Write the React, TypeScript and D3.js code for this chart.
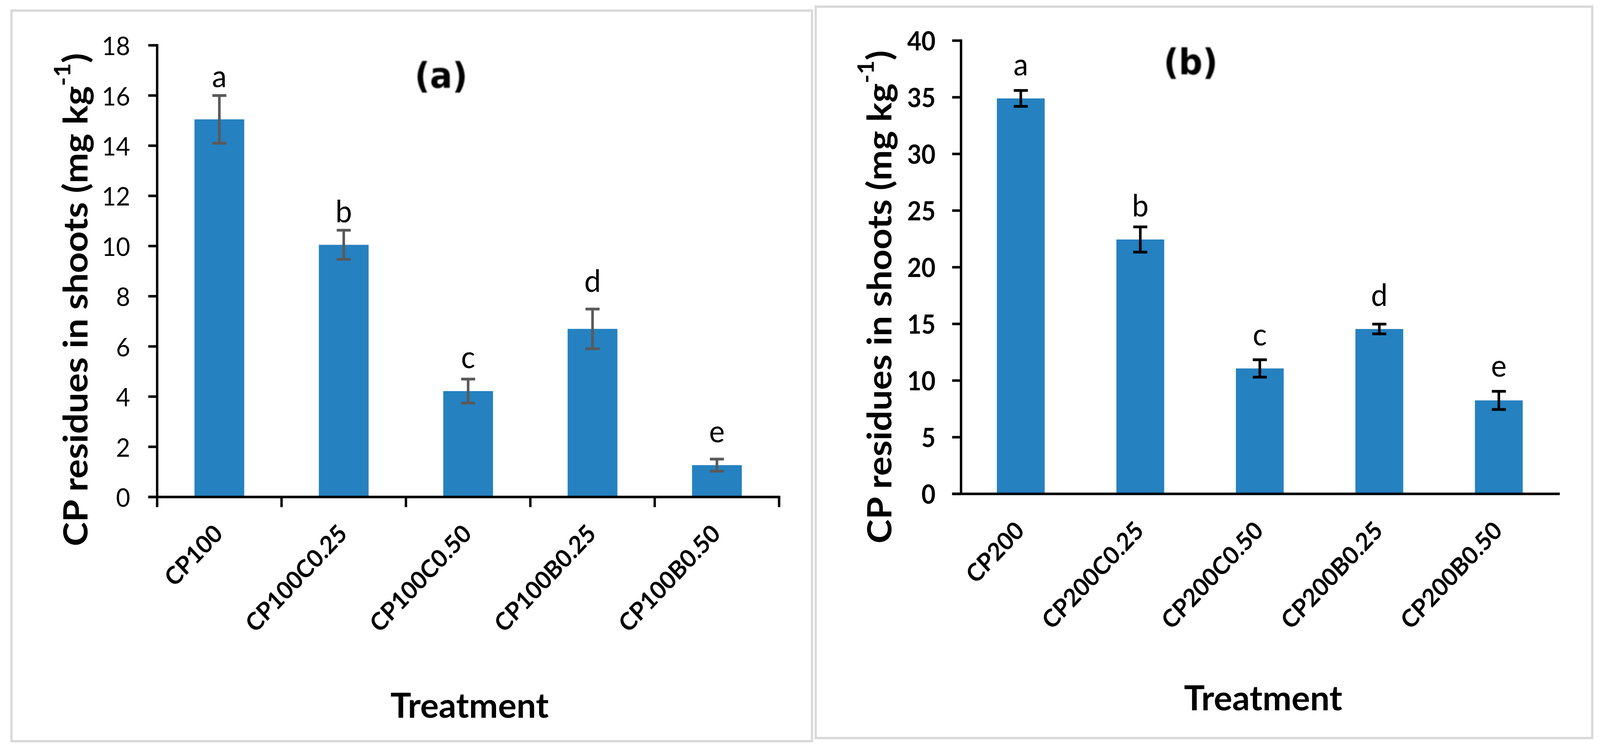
import React from "react";
import * as d3 from "d3";

// ---------- data ----------
const catsA = ["CP100", "CP100C0.25", "CP100C0.50", "CP100B0.25", "CP100B0.50"];
const meansA = [15.05, 10.05, 4.22, 6.7, 1.27];
const errsA = [0.95, 0.58, 0.48, 0.79, 0.24];
const lettersA = ["a", "b", "c", "d", "e"];
const letterAtA = [16.34, 10.95, 5.14, 8.18, 2.18];
const ticksA = [0, 2, 4, 6, 8, 10, 12, 14, 16, 18];

const catsB = ["CP200", "CP200C0.25", "CP200C0.50", "CP200B0.25", "CP200B0.50"];
const meansB = [34.9, 22.45, 11.07, 14.55, 8.25];
const errsB = [0.7, 1.11, 0.77, 0.43, 0.8];
const lettersB = ["a", "b", "c", "d", "e"];
const letterAtB = [36.93, 24.48, 13.1, 16.59, 10.36];
const ticksB = [0, 5, 10, 15, 20, 25, 30, 35, 40];

const W = 4327;
const H = 1917;
const BAR = "#2581c0";
const FONT = "Lato, Carlito, Calibri, sans-serif";

type PanelProps = {
  id: string;
  cats: string[];
  means: number[];
  errs: number[];
  letters: string[];
  letterAt: number[];
  ticks: number[];
  frame: [number, number, number, number];
  x0: number;
  x1: number;
  y0: number;
  y1: number;
  tickBold: boolean;
  errColor: string;
  catTicks: boolean;
  title: string;
  titlePos: [number, number];
  yTitlePos: [number, number];
  xTitlePos: [number, number];
  tickGap: number;
};

function Panel(p: PanelProps) {
  const x = d3
    .scaleBand<string>()
    .domain(p.cats)
    .range([p.x0, p.x1])
    .paddingInner(0.6)
    .paddingOuter(0.3);
  const ymax = p.ticks[p.ticks.length - 1];
  const y = d3.scaleLinear().domain([0, ymax]).range([p.y0, p.y1]);
  const step = x.step();
  const bw = x.bandwidth();
  const tickLen = 24;
  const lw = 6.5;
  const capHalf = 19;
  return (
    <g>
      <rect
        x={p.frame[0]}
        y={p.frame[1]}
        width={p.frame[2]}
        height={p.frame[3]}
        fill="#fff"
        stroke="#d9d9d9"
        strokeWidth={6}
      />
      {/* bars */}
      {p.cats.map((c, i) => (
        <rect
          key={c}
          x={x(c)}
          y={y(p.means[i])}
          width={bw}
          height={y(0) - y(p.means[i])}
          fill={BAR}
        />
      ))}
      {/* error bars */}
      {p.cats.map((c, i) => {
        const cx = (x(c) as number) + bw / 2;
        const hi = y(p.means[i] + p.errs[i]);
        const lo = y(p.means[i] - p.errs[i]);
        return (
          <g key={c + "e"} stroke={p.errColor} strokeWidth={7}>
            <line x1={cx} x2={cx} y1={hi} y2={lo} />
            <line x1={cx - capHalf} x2={cx + capHalf} y1={hi} y2={hi} />
            <line x1={cx - capHalf} x2={cx + capHalf} y1={lo} y2={lo} />
          </g>
        );
      })}
      {/* significance letters */}
      {p.cats.map((c, i) => (
        <text
          key={c + "l"}
          x={(x(c) as number) + bw / 2}
          y={y(p.letterAt[i])}
          textAnchor="middle"
          fontFamily={FONT}
          fontSize={80}
          fill="#000"
        >
          {p.letters[i]}
        </text>
      ))}
      {/* y axis */}
      <line x1={p.x0} x2={p.x0} y1={y(ymax) - lw / 2} y2={p.y0} stroke="#000" strokeWidth={lw} />
      {p.ticks.map((t) => (
        <g key={"t" + t}>
          <line x1={p.x0 - tickLen} x2={p.x0} y1={y(t)} y2={y(t)} stroke="#000" strokeWidth={lw} />
          <text
            x={p.x0 - p.tickGap}
            y={y(t)}
            textAnchor="end"
            dominantBaseline="central"
            fontFamily={FONT}
            fontWeight={p.tickBold ? 700 : 400}
            fontSize={66}
            fill="#000"
          >
            {t}
          </text>
        </g>
      ))}
      {/* x axis */}
      <line x1={p.x0 - tickLen} x2={p.x1 + lw / 2} y1={p.y0} y2={p.y0} stroke="#000" strokeWidth={lw} />
      {p.catTicks &&
        d3.range(p.cats.length + 1).map((i) => (
          <line
            key={"ct" + i}
            x1={p.x0 + i * step}
            x2={p.x0 + i * step}
            y1={p.y0}
            y2={p.y0 + 26}
            stroke="#000"
            strokeWidth={lw}
          />
        ))}
      {p.cats.map((c) => {
        const cx = (x(c) as number) + bw / 2 + 13;
        const cy = p.y0 + 98;
        return (
          <text
            key={c + "x"}
            x={cx}
            y={cy}
            transform={`rotate(-45 ${cx} ${cy})`}
            textAnchor="end"
            fontFamily={FONT}
            fontWeight={700}
            fontSize={63}
            fill="#000"
          >
            {c}
          </text>
        );
      })}
      {/* titles */}
      <text
        x={p.titlePos[0]}
        y={p.titlePos[1]}
        textAnchor="middle"
        dominantBaseline="central"
        fontFamily="DejaVu Sans, Verdana, sans-serif"
        fontWeight={700}
        fontSize={90}
        fill="#000"
        filter={`url(#soft-${p.id})`}
      >
        {p.title}
      </text>
      <text
        x={p.yTitlePos[0]}
        y={p.yTitlePos[1]}
        transform={`rotate(-90 ${p.yTitlePos[0]} ${p.yTitlePos[1]})`}
        textAnchor="middle"
        dominantBaseline="central"
        fontFamily={FONT}
        fontWeight={700}
        fontSize={91}
        textLength={1262}
        lengthAdjust="spacingAndGlyphs"
        fill="#000"
      >
        CP residues in shoots (mg kg
        <tspan baselineShift="super" fontSize={60}>
          -1
        </tspan>
        )
      </text>
      <text
        x={p.xTitlePos[0]}
        y={p.xTitlePos[1]}
        textAnchor="middle"
        fontFamily={FONT}
        fontWeight={700}
        fontSize={88}
        textLength={428}
        lengthAdjust="spacingAndGlyphs"
        fill="#000"
      >
        Treatment
      </text>
    </g>
  );
}

export default function App() {
  return (
    <svg
      viewBox={`0 0 ${W} ${H}`}
      preserveAspectRatio="none"
      style={{
        position: "fixed",
        left: 0,
        top: 0,
        width: "100vw",
        height: "100vh",
        display: "block",
        background: "#fff",
      }}
    >
      <defs>
        <filter id="soft-a" x="-10%" y="-10%" width="120%" height="120%">
          <feGaussianBlur stdDeviation={1.6} />
        </filter>
        <filter id="soft-b" x="-10%" y="-10%" width="120%" height="120%">
          <feGaussianBlur stdDeviation={1.6} />
        </filter>
      </defs>
      <rect x={0} y={0} width={W} height={H} fill="#fff" />
      <Panel
        id="a"
        cats={catsA}
        means={meansA}
        errs={errsA}
        letters={lettersA}
        letterAt={letterAtA}
        ticks={ticksA}
        frame={[31, 27, 2165, 1870]}
        x0={425}
        x1={2107}
        y0={1272}
        y1={116}
        tickBold={false}
        errColor="#595959"
        catTicks={true}
        title="(a)"
        titlePos={[1193, 194]}
        yTitlePos={[202, 767]}
        xTitlePos={[1270, 1837]}
        tickGap={73}
      />
      <Panel
        id="b"
        cats={catsB}
        means={meansB}
        errs={errsB}
        letters={lettersB}
        letterAt={letterAtB}
        ticks={ticksB}
        frame={[2206, 17, 2100, 1872]}
        x0={2599}
        x1={4215}
        y0={1264}
        y1={104}
        tickBold={true}
        errColor="#000"
        catTicks={false}
        title="(b)"
        titlePos={[3220, 159]}
        yTitlePos={[2376, 760]}
        xTitlePos={[3416, 1818]}
        tickGap={69}
      />
    </svg>
  );
}
